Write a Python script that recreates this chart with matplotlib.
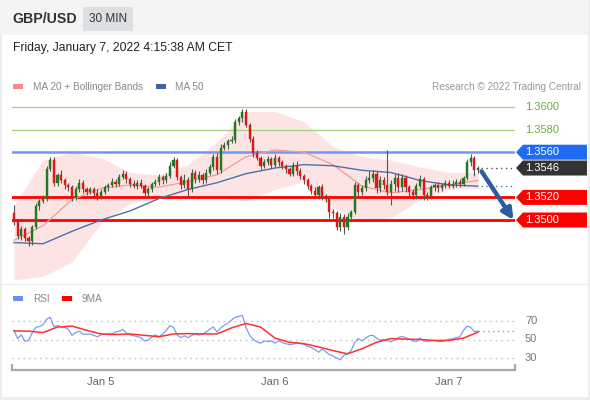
import matplotlib
matplotlib.use("Agg")
import matplotlib.pyplot as plt
from matplotlib.patches import Rectangle, Polygon
from matplotlib.lines import Line2D
from matplotlib.transforms import blended_transform_factory
import pandas as pd

plt.rcParams['font.family'] = ['Liberation Sans', 'DejaVu Sans']

# --- data (30 min candles, GBP/USD) ---
first_open = 1.3506
closes = [
    1.3498, 1.3486, 1.3492, 1.3484, 1.3481, 1.3494, 1.3512, 1.3517, 1.3519, 1.3545,
    1.3553, 1.3533, 1.3540, 1.3535, 1.3531, 1.3529, 1.3520, 1.3527, 1.3533, 1.3527,
    1.3525, 1.3527, 1.3524, 1.3521, 1.3525, 1.3529, 1.3531, 1.3534, 1.3532, 1.3538,
    1.3541, 1.3536, 1.3532, 1.3530, 1.3533, 1.3530, 1.3524, 1.3527, 1.3532, 1.3534,
    1.3538, 1.3535, 1.3539, 1.3548, 1.3553, 1.3538, 1.3531, 1.3535, 1.3527, 1.3542,
    1.3536, 1.3540, 1.3535, 1.3542, 1.3547, 1.3556, 1.3544, 1.3564, 1.3566, 1.3570,
    1.3571, 1.3587, 1.3590, 1.3596, 1.3584, 1.3572, 1.3559, 1.3555, 1.3548, 1.3551,
    1.3554, 1.3549, 1.3555, 1.3551, 1.3548, 1.3545, 1.3541, 1.3548, 1.3543, 1.3539,
    1.3535, 1.3530, 1.3526, 1.3522, 1.3529, 1.3521, 1.3519, 1.3507, 1.3506, 1.3494,
    1.3503, 1.3494, 1.3503, 1.3507, 1.3531, 1.3525, 1.3528, 1.3535, 1.3537, 1.3541,
    1.3528, 1.3535, 1.3531, 1.3525, 1.3532, 1.3537, 1.3529, 1.3537, 1.3529, 1.3525,
    1.3522, 1.3530, 1.3536, 1.3522, 1.3521, 1.3529, 1.3531, 1.3528, 1.3531, 1.3533,
    1.3530, 1.3532, 1.3534, 1.3532, 1.3537, 1.3551, 1.3555, 1.3544, 1.3546,
]
# wicks in pips above / below the body
up_wick = [
    7, 2, 3, 2, 2, 2, 3, 2, 3, 3,
    3, 3, 2, 4, 2, 2, 2, 3, 3, 2,
    2, 2, 2, 3, 2, 2, 2, 3, 2, 3,
    3, 2, 2, 3, 2, 3, 2, 2, 2, 2,
    3, 2, 3, 3, 3, 2, 2, 6, 3, 3,
    2, 3, 2, 3, 3, 2, 3, 3, 3, 2,
    3, 2, 2, 2, 2, 2, 2, 3, 2, 3,
    3, 2, 3, 2, 2, 2, 2, 3, 4, 3,
    2, 2, 2, 3, 2, 3, 2, 2, 3, 2,
    3, 2, 3, 2, 3, 2, 3, 4, 6, 3,
    2, 4, 3, 31, 3, 4, 5, 4, 3, 2,
    2, 3, 4, 2, 3, 2, 2, 3, 2, 2,
    2, 3, 2, 2, 2, 3, 3, 2, 2,
]
dn_wick = [
    2, 3, 4, 3, 4, 3, 2, 3, 2, 2,
    2, 3, 3, 2, 4, 3, 3, 2, 2, 3,
    3, 2, 3, 3, 2, 2, 3, 2, 3, 2,
    2, 3, 3, 2, 3, 2, 3, 3, 2, 2,
    3, 3, 2, 2, 2, 3, 4, 3, 6, 2,
    3, 2, 3, 2, 2, 3, 3, 2, 2, 3,
    2, 3, 3, 3, 2, 3, 3, 2, 3, 2,
    2, 3, 2, 3, 3, 3, 2, 2, 3, 3,
    3, 3, 3, 2, 3, 3, 3, 5, 4, 3,
    4, 6, 3, 4, 2, 4, 3, 2, 2, 3,
    4, 3, 4, 3, 12, 6, 4, 3, 4, 4,
    3, 3, 2, 4, 3, 2, 3, 3, 2, 3,
    2, 2, 3, 3, 2, 2, 3, 5, 2,
]
rsi = [
    60, 51, 55, 48, 49, 57, 63, 64, 66, 72,
    74, 64, 65, 63.6, 63, 61, 54.6, 57.5, 59, 55.7,
    55.7, 56, 54.5, 53, 55, 56, 55.7, 56, 58, 59,
    61, 57, 55, 54, 53.3, 52, 48.5, 49.5, 52.5, 55,
    53, 55.7, 60, 65, 63, 55, 52, 54, 52, 54.5,
    55.7, 54.8, 56, 58, 61, 63.6, 58, 62.5, 65.5, 67.5,
    71, 74, 75, 76, 63, 54.6, 50, 47.5, 46, 48.3,
    47.8, 48.5, 46, 48.6, 46.7, 45.5, 44.5, 45, 46, 45.5,
    45, 42.6, 41.3, 39, 36.2, 39.6, 36.8, 33.8, 32.2, 30,
    28, 32.8, 34.5, 38, 47, 51, 48.5, 51.5, 54, 54.6,
    51.5, 49.2, 50, 48.7, 47.5, 49.2, 52, 53.3, 52, 50.5,
    48.6, 47.8, 51.5, 48.5, 48, 48.7, 49, 47.8, 48, 48.7,
    50.2, 50.7, 52, 53, 60, 64.5, 63, 58.5, 59,
]
# indicator lines sampled every 8 bars
ma_step = 8
ma20 = [1.3482, 1.3495, 1.3518, 1.3528, 1.3531, 1.3529, 1.3534, 1.3540, 1.3556,
        1.3562, 1.3560, 1.3549, 1.3530, 1.3524, 1.3527, 1.3531, 1.3535]
ma50 = [1.3480, 1.3479, 1.3490, 1.3500, 1.3508, 1.3519, 1.3527, 1.3533, 1.3541,
        1.3546, 1.3549, 1.3548, 1.3544, 1.3542, 1.3535, 1.3531, 1.3530]
bb_upper = [1.3513, 1.3553, 1.3560, 1.3555, 1.3542, 1.3540, 1.3549, 1.3569, 1.3596,
            1.3596, 1.3587, 1.3565, 1.3556, 1.3553, 1.3547, 1.3542, 1.3542]
bb_lower = [1.3447, 1.3450, 1.3463, 1.3497, 1.3515, 1.3519, 1.3520, 1.3520, 1.3517,
            1.3527, 1.3534, 1.3511, 1.3498, 1.3502, 1.3518, 1.3527, 1.3528]
# RSI 9MA sampled every 4 bars
ma9_step = 4
rsi_ma9 = [59.3, 59, 57.5, 63.5, 64.5, 60, 56, 55.4, 56, 54.5, 53, 56, 56.4, 56, 56,
           62.5, 67.3, 63.5, 51.5, 47, 45.5, 42, 38, 34.5, 40, 47, 51, 50.4, 50, 49,
           49, 51.5, 58]

green_levels = [1.3600, 1.3580]
blue_level = 1.3560
red_levels = [1.3520, 1.3500]
last_price = 1.3546
target = 1.3500
rsi_levels = [70, 50, 30]

n = len(closes)
times = pd.date_range(end="2022-01-07 04:00", periods=n, freq="30min")
day_idx = [i for i, t in enumerate(times) if t.hour == 0 and t.minute == 0]
day_lbl = [times[i].strftime("%b ") + str(times[i].day) for i in day_idx]

opens = [first_open] + closes[:-1]
highs = [max(o, c) + u * 1e-4 for o, c, u in zip(opens, closes, up_wick)]
lows = [min(o, c) - d * 1e-4 for o, c, d in zip(opens, closes, dn_wick)]
idx = list(range(n))
ma_idx = list(range(0, n, ma_step))
ma9_idx = list(range(0, n, ma9_step))

W, H = 590, 400
fig = plt.figure(figsize=(W / 100, H / 100), dpi=100)
fig.patch.set_facecolor('white')

def fx(px):
    return px / W

def fy(py):
    return 1 - py / H

# header
fig.add_artist(Rectangle((0, fy(35)), 1, 35 / H, transform=fig.transFigure,
                         color='#f4f4f4', lw=0))
fig.add_artist(Rectangle((fx(83), fy(31)), 50 / W, 24 / H, transform=fig.transFigure,
                         color='#dcdfe2', lw=0))
fig.text(fx(12), fy(19), "GBP/USD", fontsize=10.2, fontweight='bold', color='#333333',
         va='center')
fig.text(fx(108), fy(19), "30 MIN", fontsize=8.5, color='#333333', va='center', ha='center')
fig.text(fx(13), fy(48), "Friday, January 7, 2022 4:15:38 AM CET", fontsize=8.7,
         color='#222222', va='center')
# frame edges
fig.add_artist(Rectangle((fx(588), 0), 2 / W, 1, transform=fig.transFigure, color='#eeeeee', lw=0))
fig.add_artist(Rectangle((0, 0), 1, 3 / H, transform=fig.transFigure, color='#eeeeee', lw=0))
fig.add_artist(Rectangle((0, 0), 2 / W, fy(35), transform=fig.transFigure, color='#eeeeee', lw=0))
fig.add_artist(Line2D([fx(2), fx(588)], [fy(284), fy(284)], transform=fig.transFigure,
                      color='#ececec', lw=1))

# legends
fig.add_artist(Rectangle((fx(13), fy(89)), 10 / W, 5 / H, transform=fig.transFigure,
                         color='#f88a8a', lw=0))
fig.text(fx(33), fy(86.5), "MA 20 + Bollinger Bands", fontsize=7.2, color='#888888', va='center')
fig.add_artist(Rectangle((fx(156), fy(89)), 10 / W, 5 / H, transform=fig.transFigure,
                         color='#3c64a0', lw=0))
fig.text(fx(175), fy(86.5), "MA 50", fontsize=7.2, color='#888888', va='center')
fig.text(fx(581), fy(86.5), "Research \u00a9 2022 Trading Central", fontsize=7.2,
         color='#999999', va='center', ha='right')

fig.add_artist(Rectangle((fx(13), fy(301)), 10 / W, 5 / H, transform=fig.transFigure,
                         color='#6b8ff0', lw=0))
fig.text(fx(33), fy(298.5), "RSI", fontsize=7.2, color='#888888', va='center')
fig.add_artist(Rectangle((fx(62), fy(301)), 10 / W, 5 / H, transform=fig.transFigure,
                         color='#ff0000', lw=0))
fig.text(fx(82), fy(298.5), "9MA", fontsize=7.2, color='#888888', va='center')

# main price panel
bar_px = 3.625
px_per_unit = (220 - 107) / (1.3600 - 1.3500)
x_left = -2 / bar_px
x_right = (515 - 14) / bar_px
ax = fig.add_axes([fx(12), fy(283), 503 / W, (283 - 95) / H])
ax.set_xlim(x_left, x_right)
ax.set_ylim(1.3500 - (283 - 220) / px_per_unit, 1.3600 + (107 - 95) / px_per_unit)
ax.axis('off')

ax.fill_between(ma_idx, bb_lower, bb_upper, color='#fde4e4', lw=0, zorder=1)
ax.plot(ma_idx, ma20, color='#f39a9a', lw=0.9, zorder=2)
ax.plot(ma_idx, ma50, color='#4f6fa8', lw=1.0, zorder=2)

for lv in green_levels:
    ax.axhline(lv, color='#a3d07c', lw=0.9, zorder=1.5)
ax.axhline(blue_level, color='#7098f0', lw=1.8, zorder=1.5)
for lv in red_levels:
    ax.axhline(lv, color='#ff0000', lw=2, zorder=1.5)

up_col, dn_col = '#1f7a1f', '#e01515'
cols = [up_col if c >= o else dn_col for o, c in zip(opens, closes)]
ax.vlines(idx, lows, highs, color='#555555', lw=0.8, zorder=3)
bodies = [max(abs(c - o), 0.00005) for o, c in zip(opens, closes)]
ax.bar(idx, bodies, bottom=[min(o, c) for o, c in zip(opens, closes)], width=0.62,
       color=cols, edgecolor=cols, lw=0.3, zorder=4)

ext_start = n - 1 + 0.9
ax.plot([ext_start, x_right], [last_price, last_price], ls=(0, (1, 2.5)), color='#555555', lw=1)
ax.plot([ext_start, x_right], [ma50[-1], ma50[-1]], ls=(0, (1, 2.5)), color='#4f6fa8', lw=1)

ax.annotate('', xy=(n - 1 + 9.8, target), xytext=(n - 1 + 1.0, last_price - 0.0003),
            arrowprops=dict(arrowstyle='-|>', color='#2d5c9e', lw=3.2, mutation_scale=16,
                            shrinkA=0, shrinkB=0), zorder=6)

ytr = ax.get_yaxis_transform()
aw = 503.0
lab_x = (525 - 12) / aw
for lv in green_levels:
    ax.text(lab_x, lv, f"{lv:.4f}", transform=ytr, fontsize=8, color='#6aae3a',
            va='center', clip_on=False)

def flag(level, color):
    h = 7.5 / px_per_unit
    tip, corner, right = (516 - 12) / aw, (523 - 12) / aw, (587 - 12) / aw
    pts = [(tip, level), (corner, level + h), (right, level + h), (right, level - h),
           (corner, level - h)]
    ax.add_patch(Polygon(pts, closed=True, transform=ytr, color=color, lw=0,
                         clip_on=False, zorder=5))
    ax.text(lab_x, level, f"{level:.4f}", transform=ytr, fontsize=8, color='white',
            va='center', clip_on=False, zorder=6)

flag(blue_level, '#1f6cf2')
flag(last_price, '#333333')
for lv in red_levels:
    flag(lv, '#ff0000')

# RSI panel
rsi_ppu = (358 - 321) / 40.0
ax2 = fig.add_axes([fx(12), fy(368), 503 / W, 60 / H])
ax2.set_xlim(x_left, x_right)
ax2.set_ylim(30 - (368 - 358) / rsi_ppu, 70 + (321 - 308) / rsi_ppu)
ax2.axis('off')
for lv in rsi_levels:
    ax2.axhline(lv, color='#bbbbbb', ls=(0, (1, 3)), lw=1, zorder=1)
    ax2.text(lab_x, lv, str(lv), transform=ax2.get_yaxis_transform(), fontsize=8,
             color='#777777', va='center', clip_on=False)
ax2.plot(idx, rsi, color='#7d9cf0', lw=0.9, zorder=2)
ax2.plot(ma9_idx, rsi_ma9, color='#ff3030', lw=1.1, zorder=3)
ax2.plot([n - 1, x_right], [rsi[-1], rsi[-1]], ls=(0, (1, 2.5)), color='#7d9cf0', lw=1)

# bottom time axis
fig.add_artist(Line2D([fx(12), fx(515)], [fy(370), fy(370)], transform=fig.transFigure,
                      color='#aaaaaa', lw=1.6))
for xe in (12, 515):
    fig.add_artist(Line2D([fx(xe), fx(xe)], [fy(370), fy(365)], transform=fig.transFigure,
                          color='#aaaaaa', lw=1.6))
btr = blended_transform_factory(ax2.transData, fig.transFigure)
for i, lbl in zip(day_idx, day_lbl):
    fig.text(i, fy(382), lbl, transform=btr, fontsize=8, color='#666666',
             ha='center', va='center')

fig.savefig("out.png", dpi=100, facecolor=fig.get_facecolor())
